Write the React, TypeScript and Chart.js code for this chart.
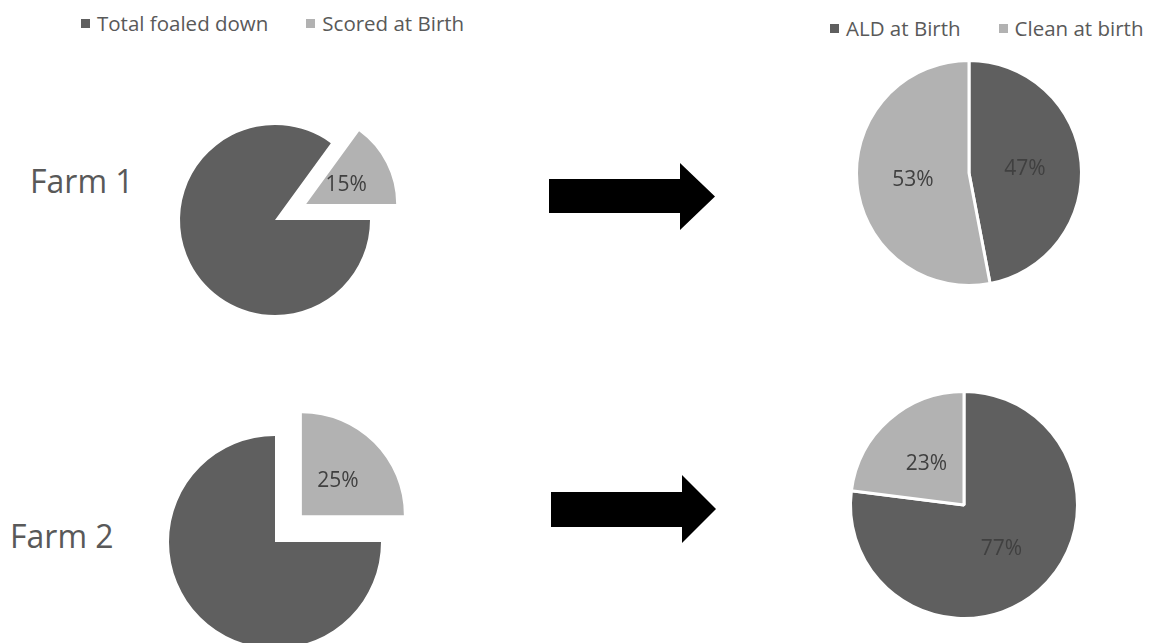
import React, { useEffect, useRef } from "react";
import { Chart, registerables } from "chart.js";

Chart.register(...registerables);

const FONT = "'Open Sans', 'Noto Sans', sans-serif";
const DARK = "#5f5f5f";
const LIGHT = "#b2b2b2";
const TEXT = "#595959";
const LABEL = "#404040";
const SLICE_COLORS = [DARK, LIGHT];

// Left column: share of foals scored at birth on each farm (%)
const birthCategories = ["Total foaled down", "Scored at Birth"];
const farm1Birth = [85, 15];
const farm2Birth = [75, 25];

// Right column: outcome at birth for the scored foals (%)
const outcomeCategories = ["ALD at Birth", "Clean at birth"];
const farm1Outcome = [47, 53];
const farm2Outcome = [77, 23];

const farmLabels = ["Farm 1", "Farm 2"];

// Pulls selected slices away from the centre along their bisector.
const explodePlugin = {
  id: "explode",
  afterDatasetUpdate(chart: any, args: any, opts: any) {
    const offsets: number[] = (opts && opts.offsets) || [];
    const radii: number[] = (opts && opts.radii) || [];
    args.meta.data.forEach((arc: any, i: number) => {
      const d = offsets[i] || 0;
      if (!d) return;
      const mid = (arc.startAngle + arc.endAngle) / 2;
      arc.x += Math.cos(mid) * d;
      arc.y += Math.sin(mid) * d;
      if (radii[i]) arc.outerRadius = radii[i];
    });
  },
};

// Writes the percentage at the middle of each labelled slice.
const percentLabelsPlugin = {
  id: "percentLabels",
  afterDatasetsDraw(chart: any, _args: any, opts: any) {
    const shown: boolean[] = (opts && opts.shown) || [];
    const ctx = chart.ctx;
    const meta = chart.getDatasetMeta(0);
    const values = chart.data.datasets[0].data as number[];
    const total = values.reduce((a, b) => a + b, 0);
    ctx.save();
    ctx.font = `21px ${FONT}`;
    ctx.fillStyle = LABEL;
    ctx.textAlign = "center";
    ctx.textBaseline = "alphabetic";
    meta.data.forEach((arc: any, i: number) => {
      if (shown[i] === false) return;
      const p = arc.getCenterPoint();
      ctx.fillText(Math.round((values[i] / total) * 100) + "%", p.x, p.y + 7.5);
    });
    ctx.restore();
  },
};

type PieProps = {
  labels: string[];
  values: number[];
  cx: number;
  cy: number;
  size: number;
  radius: number;
  rotation: number;
  borderWidth: number;
  offsets?: number[];
  radii?: number[];
  shown?: boolean[];
};

function Pie({ labels, values, cx, cy, size, radius, rotation, borderWidth, offsets, radii, shown }: PieProps) {
  const ref = useRef<HTMLCanvasElement | null>(null);
  useEffect(() => {
    if (!ref.current) return;
    const chart = new Chart(ref.current, {
      type: "pie",
      data: {
        labels,
        datasets: [
          {
            data: values,
            backgroundColor: SLICE_COLORS,
            borderColor: "#ffffff",
            borderWidth,
            radius,
            rotation,
          } as any,
        ],
      },
      options: {
        responsive: false,
        animation: false,
        events: [],
        layout: { padding: 0 },
        plugins: {
          legend: { display: false },
          tooltip: { enabled: false },
          explode: { offsets: offsets || [], radii: radii || [] },
          percentLabels: { shown: shown || [] },
        } as any,
      },
      plugins: [explodePlugin, percentLabelsPlugin],
    });
    return () => chart.destroy();
  }, []);
  return (
    <canvas
      ref={ref}
      width={size}
      height={size}
      style={{ position: "absolute", left: cx - size / 2, top: cy - size / 2, display: "block" }}
    />
  );
}

function Legend({ labels, left, top }: { labels: string[]; left: number; top: number }) {
  return (
    <div
      style={{
        position: "absolute",
        left,
        top,
        display: "flex",
        alignItems: "center",
        gap: 38,
        font: `20.5px ${FONT}`,
        lineHeight: "28px",
        color: TEXT,
        whiteSpace: "nowrap",
      }}
    >
      {labels.map((label, i) => (
        <div key={label} style={{ display: "flex", alignItems: "center" }}>
          <span
            style={{ display: "inline-block", width: 9, height: 9, marginRight: 7, background: SLICE_COLORS[i] }}
          />
          <span>{label}</span>
        </div>
      ))}
    </div>
  );
}

function FarmLabel({ text, left, top }: { text: string; left: number; top: number }) {
  return (
    <div
      style={{
        position: "absolute",
        left,
        top,
        font: `32px ${FONT}`,
        lineHeight: "44px",
        color: TEXT,
        whiteSpace: "nowrap",
      }}
    >
      {text}
    </div>
  );
}

export default function App() {
  return (
    <div
      style={{
        position: "absolute",
        left: 0,
        top: 0,
        width: 1154,
        height: 643,
        overflow: "hidden",
        background: "#ffffff",
        fontFamily: FONT,
      }}
    >
      <Legend labels={birthCategories} left={81} top={9} />
      <Legend labels={outcomeCategories} left={830} top={14} />

      <FarmLabel text={farmLabels[0]} left={30} top={159} />
      <FarmLabel text={farmLabels[1]} left={10} top={514} />

      <Pie
        labels={birthCategories}
        values={farm1Birth}
        cx={275}
        cy={220}
        size={300}
        radius={95}
        rotation={90}
        borderWidth={0}
        offsets={[0, 35]}
        radii={[0, 90]}
        shown={[false, true]}
      />
      <Pie
        labels={birthCategories}
        values={farm2Birth}
        cx={275}
        cy={542}
        size={300}
        radius={106}
        rotation={90}
        borderWidth={0}
        offsets={[0, 38]}
        radii={[0, 102]}
        shown={[false, true]}
      />
      <Pie
        labels={outcomeCategories}
        values={farm1Outcome}
        cx={969}
        cy={173}
        size={260}
        radius={112.5}
        rotation={0}
        borderWidth={3}
      />
      <Pie
        labels={outcomeCategories}
        values={farm2Outcome}
        cx={964}
        cy={505}
        size={260}
        radius={113.5}
        rotation={0}
        borderWidth={3}
      />

      <svg
        width={1154}
        height={643}
        style={{ position: "absolute", left: 0, top: 0, pointerEvents: "none" }}
      >
        <polygon points="549,179 680,179 680,163 715,196.5 680,230 680,213 549,213" fill="#000000" />
        <polygon points="551,492 682,492 682,475 716,509 682,543 682,527 551,527" fill="#000000" />
      </svg>
    </div>
  );
}
